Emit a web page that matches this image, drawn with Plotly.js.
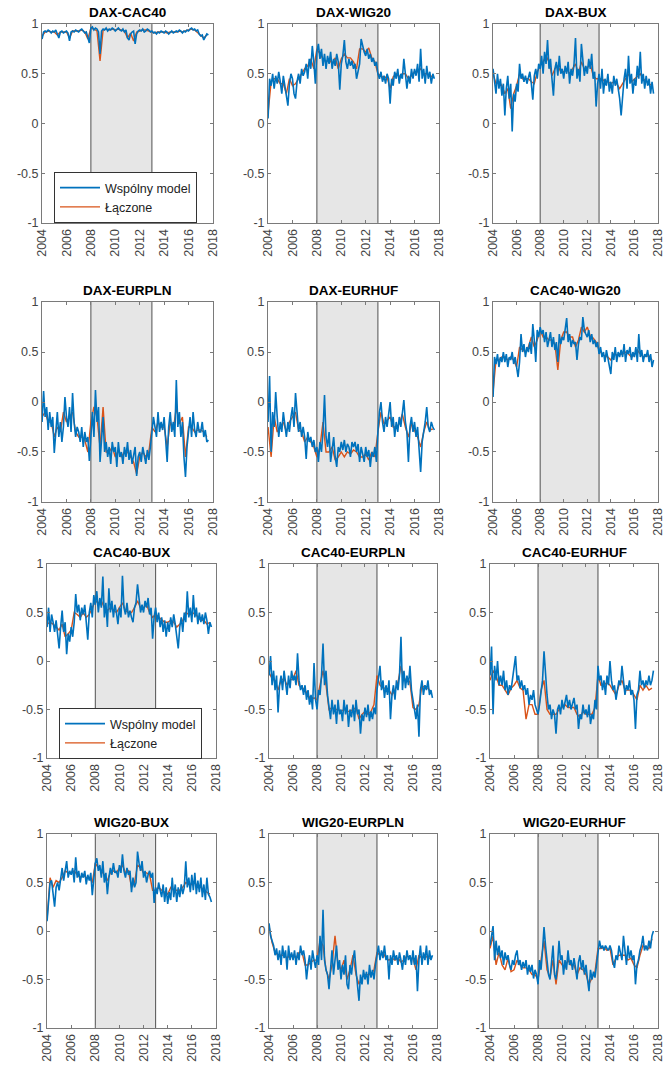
<!DOCTYPE html>
<html>
<head>
<meta charset="utf-8">
<script src="https://cdn.plot.ly/plotly-3.0.1.min.js"></script>
<style>
html,body{margin:0;padding:0;background:#fff;}
#chart{width:666px;height:1065px;}
</style>
</head>
<body>
<div id="chart"></div>
<script>
// ---------- DATA ----------
const panelTitles = ['DAX-CAC40','DAX-WIG20','DAX-BUX','DAX-EURPLN','DAX-EURHUF','CAC40-WIG20',
                     'CAC40-BUX','CAC40-EURPLN','CAC40-EURHUF','WIG20-BUX','WIG20-EURPLN','WIG20-EURHUF'];
const seriesNames = ['Wspólny model','Łączone'];
const xTickYears = [2004,2006,2008,2010,2012,2014,2016,2018];
const yTickVals = [-1,-0.5,0,0.5,1];
const yTickText = ['-1','-0.5','0','0.5','1'];
const crisisStart = 2008, crisisEnd = 2013;
const startYear = 2004;
const stepWsp = 1/8;   // sampling of "Wspólny model" values
const stepLac = 1/4;   // sampling of "Łączone" values

// Wspólny model (blue), 2004.000 .. 2017.625 every 1/8 year
const wsp_DAX_CAC40 = [
0.85,0.92,0.93,0.92,0.94,0.93,0.91,0.93,
0.92,0.94,0.90,0.86,0.92,0.93,0.91,0.92,
0.93,0.91,0.83,0.92,0.93,0.92,0.94,0.93,
0.92,0.94,0.95,0.93,0.91,0.92,0.87,0.81,
0.96,0.97,0.94,0.96,0.95,0.92,0.70,0.93,
0.95,0.94,0.96,0.93,0.95,0.94,0.96,0.95,
0.93,0.95,0.96,0.94,0.93,0.95,0.92,0.94,
0.86,0.84,0.90,0.92,0.93,0.80,0.90,0.93,
0.94,0.93,0.95,0.92,0.93,0.95,0.94,0.92,
0.93,0.91,0.92,0.90,0.92,0.91,0.93,0.92,
0.91,0.93,0.92,0.90,0.92,0.93,0.91,0.92,
0.93,0.92,0.94,0.93,0.91,0.93,0.92,0.94,
0.93,0.95,0.96,0.94,0.95,0.93,0.94,0.90,
0.88,0.89,0.84,0.87,0.90,0.89];
const wsp_DAX_WIG20 = [
0.05,0.45,0.38,0.50,0.35,0.48,0.40,0.52,
0.42,0.30,0.48,0.38,0.25,0.18,0.40,0.50,
0.45,0.30,0.25,0.42,0.50,0.40,0.55,0.48,
0.52,0.60,0.45,0.65,0.55,0.78,0.62,0.40,
0.72,0.80,0.65,0.75,0.58,0.70,0.55,0.68,
0.60,0.72,0.55,0.65,0.58,0.70,0.62,0.34,
0.60,0.68,0.84,0.62,0.55,0.65,0.58,0.63,
0.55,0.60,0.45,0.52,0.60,0.85,0.78,0.72,
0.68,0.75,0.65,0.70,0.62,0.66,0.58,0.62,
0.50,0.45,0.52,0.42,0.48,0.40,0.50,0.45,
0.20,0.45,0.38,0.52,0.45,0.55,0.40,0.50,
0.45,0.65,0.50,0.35,0.48,0.40,0.55,0.45,
0.55,0.48,0.60,0.42,0.75,0.45,0.55,0.40,
0.58,0.45,0.52,0.40,0.50,0.45];
const wsp_DAX_BUX = [
0.55,0.40,0.30,0.50,0.35,0.45,0.28,0.40,
0.08,0.35,0.48,0.25,0.40,-0.08,0.30,0.22,
0.40,0.32,0.60,0.45,0.50,0.42,0.48,0.40,
0.45,0.52,0.40,0.24,0.48,0.55,0.45,0.60,
0.55,0.68,0.50,0.72,0.60,0.84,0.55,0.65,
0.45,0.28,0.55,0.62,0.48,0.68,0.50,0.55,
0.45,0.58,0.50,0.62,0.40,0.55,0.48,0.60,
0.86,0.45,0.55,0.42,0.80,0.60,0.48,0.58,
0.50,0.65,0.55,0.70,0.45,0.52,0.17,0.40,
0.50,0.35,0.55,0.30,0.45,0.38,0.50,0.32,
0.42,0.30,0.48,0.38,0.45,0.35,0.25,0.08,
0.30,0.45,0.55,0.35,0.68,0.40,0.50,0.30,
0.45,0.38,0.58,0.45,0.72,0.40,0.50,0.35,
0.48,0.38,0.45,0.30,0.42,0.30];
const wsp_DAX_EURPLN = [
-0.20,0.11,-0.15,-0.05,-0.28,-0.10,-0.25,-0.15,
-0.51,-0.30,-0.10,-0.35,-0.20,-0.40,-0.25,0.05,
-0.15,-0.25,-0.05,-0.30,0.09,-0.20,-0.35,-0.25,
-0.30,-0.40,-0.25,-0.45,-0.30,-0.40,-0.35,-0.59,
-0.30,-0.10,-0.35,0.12,-0.20,-0.05,-0.60,-0.35,
-0.15,-0.50,-0.40,-0.55,-0.45,-0.62,-0.40,-0.50,
-0.45,-0.65,-0.40,-0.55,-0.50,-0.62,-0.45,-0.55,
-0.40,-0.58,-0.48,-0.62,-0.55,-0.45,-0.74,-0.55,
-0.50,-0.60,-0.45,-0.55,-0.62,-0.48,-0.58,-0.45,
-0.30,-0.15,-0.25,-0.35,-0.10,-0.30,-0.20,-0.28,
-0.15,-0.35,-0.60,-0.25,-0.10,-0.30,-0.20,-0.35,
0.22,-0.25,-0.10,-0.35,-0.20,-0.55,-0.75,-0.45,
-0.30,-0.15,-0.35,-0.10,-0.28,-0.35,-0.20,-0.30,
-0.30,-0.20,-0.35,-0.28,-0.40,-0.38];
const wsp_DAX_EURHUF = [
-0.20,0.26,-0.50,-0.10,-0.25,0.10,-0.15,-0.35,
-0.20,-0.30,-0.10,-0.25,-0.35,-0.20,-0.30,-0.15,
-0.05,-0.25,0.09,-0.10,-0.30,-0.20,-0.35,-0.25,
-0.35,-0.57,-0.30,-0.40,-0.35,-0.45,-0.38,-0.50,
-0.45,-0.60,-0.40,-0.50,-0.30,0.07,-0.35,-0.45,
-0.30,-0.60,-0.45,-0.35,-0.55,-0.65,-0.45,-0.50,
-0.40,-0.48,-0.38,-0.50,-0.42,-0.45,-0.55,-0.40,
-0.45,-0.40,-0.50,-0.42,-0.60,-0.45,-0.52,-0.60,
-0.45,-0.55,-0.48,-0.65,-0.50,-0.55,-0.45,-0.60,
-0.30,-0.10,0.00,-0.20,-0.30,-0.15,-0.25,-0.10,
0.00,-0.25,-0.15,-0.35,-0.20,-0.30,-0.15,-0.25,
-0.10,0.02,-0.20,-0.30,-0.60,-0.25,-0.15,-0.30,
-0.20,-0.35,-0.25,-0.45,-0.70,-0.40,-0.30,-0.20,
-0.05,-0.25,-0.30,-0.20,-0.25,-0.28];
const wsp_CAC40_WIG20 = [
0.05,0.45,0.38,0.48,0.35,0.45,0.40,0.50,
0.40,0.48,0.35,0.45,0.42,0.50,0.38,0.45,
0.35,0.25,0.40,0.68,0.50,0.58,0.45,0.55,
0.50,0.60,0.48,0.78,0.62,0.40,0.72,0.65,
0.75,0.68,0.72,0.60,0.70,0.55,0.62,0.70,
0.55,0.65,0.52,0.60,0.40,0.68,0.58,0.65,
0.62,0.75,0.84,0.60,0.68,0.55,0.62,0.58,
0.60,0.42,0.58,0.65,0.62,0.85,0.72,0.68,
0.65,0.72,0.60,0.68,0.58,0.62,0.55,0.60,
0.48,0.55,0.45,0.50,0.40,0.52,0.45,0.38,
0.28,0.50,0.42,0.55,0.40,0.50,0.45,0.52,
0.45,0.58,0.40,0.52,0.48,0.55,0.42,0.50,
0.45,0.55,0.40,0.68,0.45,0.52,0.40,0.48,
0.45,0.52,0.40,0.48,0.35,0.42];
const wsp_CAC40_BUX = [
0.35,0.55,0.30,0.48,0.40,0.30,0.42,0.25,
0.13,0.35,0.52,0.30,0.40,0.07,0.28,0.20,
0.35,0.25,0.40,0.69,0.50,0.58,0.42,0.55,
0.48,0.58,0.40,0.22,0.50,0.60,0.45,0.68,
0.58,0.72,0.50,0.65,0.55,0.87,0.45,0.60,
0.35,0.75,0.50,0.62,0.45,0.58,0.50,0.38,
0.55,0.45,0.88,0.55,0.48,0.60,0.45,0.52,
0.45,0.40,0.55,0.60,0.79,0.65,0.50,0.58,
0.50,0.62,0.55,0.65,0.48,0.55,0.23,0.45,
0.55,0.40,0.50,0.35,0.45,0.30,0.42,0.25,
0.40,0.30,0.45,0.35,0.48,0.38,0.25,0.13,
0.35,0.45,0.30,0.50,0.40,0.72,0.45,0.55,
0.40,0.68,0.45,0.55,0.38,0.50,0.40,0.48,
0.38,0.50,0.42,0.28,0.40,0.35];
const wsp_CAC40_EURPLN = [
-0.15,0.05,-0.25,-0.10,-0.30,-0.15,-0.53,-0.25,
-0.15,-0.30,-0.10,-0.25,-0.35,-0.15,-0.28,-0.10,
-0.20,-0.15,-0.25,0.08,-0.20,-0.30,-0.25,-0.35,
-0.25,-0.40,-0.30,-0.45,-0.35,-0.50,-0.02,-0.40,
-0.50,-0.30,-0.35,-0.15,0.18,-0.25,-0.10,-0.35,
-0.45,-0.60,-0.40,-0.55,-0.45,-0.65,-0.40,-0.55,
-0.50,-0.62,-0.40,-0.55,-0.45,-0.68,-0.50,-0.58,
-0.45,-0.62,-0.40,-0.55,-0.50,-0.75,-0.55,-0.62,
-0.48,-0.58,-0.45,-0.62,-0.52,-0.60,-0.48,-0.55,
-0.30,-0.20,-0.05,-0.30,-0.20,-0.38,-0.25,-0.35,
-0.20,-0.60,-0.35,-0.25,-0.40,-0.20,-0.30,-0.15,
0.25,-0.30,-0.10,-0.28,-0.15,-0.25,-0.05,-0.30,
-0.40,-0.55,-0.60,-0.45,-0.78,-0.30,-0.20,-0.35,
-0.25,-0.30,-0.20,-0.35,-0.30,-0.38];
const wsp_CAC40_EURHUF = [
-0.15,0.15,-0.55,-0.05,-0.20,0.00,-0.25,-0.15,
-0.25,-0.10,-0.30,-0.20,-0.35,-0.25,-0.30,-0.20,
-0.10,0.05,-0.20,-0.15,-0.28,-0.20,-0.30,-0.25,
-0.35,-0.28,-0.45,-0.35,-0.40,-0.30,-0.45,-0.50,
-0.55,-0.45,-0.35,-0.20,0.10,-0.20,-0.35,-0.50,
-0.45,-0.60,-0.50,-0.55,-0.75,-0.50,-0.45,-0.55,
-0.40,-0.50,-0.42,-0.35,-0.48,-0.40,-0.50,-0.42,
-0.38,-0.50,-0.45,-0.70,-0.55,-0.60,-0.45,-0.55,
-0.50,-0.58,-0.45,-0.65,-0.55,-0.60,-0.40,-0.50,
-0.05,-0.20,-0.15,-0.30,-0.20,-0.35,-0.15,-0.25,
0.00,-0.20,-0.30,-0.25,-0.40,-0.30,-0.20,-0.25,
-0.05,-0.20,-0.35,-0.25,-0.30,-0.20,-0.35,-0.30,
-0.40,-0.70,-0.35,-0.30,-0.10,-0.25,-0.20,-0.28,
-0.20,-0.25,-0.15,-0.25,-0.20,-0.10];
const wsp_WIG20_BUX = [
0.10,0.30,0.50,0.52,0.40,0.25,0.45,0.50,
0.42,0.55,0.65,0.52,0.60,0.72,0.55,0.62,
0.58,0.65,0.50,0.76,0.55,0.62,0.50,0.60,
0.55,0.62,0.48,0.58,0.52,0.60,0.37,0.55,
0.70,0.75,0.62,0.68,0.55,0.72,0.50,0.60,
0.38,0.55,0.65,0.58,0.70,0.60,0.62,0.55,
0.68,0.60,0.79,0.62,0.55,0.65,0.58,0.62,
0.40,0.55,0.45,0.50,0.82,0.70,0.62,0.72,
0.55,0.62,0.50,0.58,0.62,0.55,0.60,0.29,
0.45,0.38,0.50,0.42,0.35,0.48,0.30,0.45,
0.28,0.40,0.32,0.55,0.35,0.48,0.30,0.45,
0.35,0.48,0.38,0.45,0.72,0.45,0.55,0.40,
0.58,0.42,0.60,0.38,0.52,0.40,0.55,0.35,
0.48,0.32,0.55,0.38,0.35,0.30];
const wsp_WIG20_EURPLN = [
0.08,-0.05,-0.10,-0.15,-0.25,-0.18,-0.30,-0.20,
-0.35,-0.15,-0.28,-0.20,-0.40,-0.15,-0.30,-0.22,
-0.30,-0.20,-0.35,-0.22,-0.30,-0.15,-0.25,-0.20,
-0.30,-0.50,-0.35,-0.25,-0.40,-0.20,-0.30,-0.38,
-0.25,-0.35,-0.05,-0.30,0.22,-0.30,-0.40,-0.45,
-0.60,-0.35,-0.20,-0.45,-0.30,-0.15,-0.40,-0.30,
-0.50,-0.35,-0.45,-0.25,-0.55,-0.60,-0.35,-0.45,
-0.30,-0.20,-0.40,-0.55,-0.72,-0.45,-0.55,-0.40,
-0.50,-0.42,-0.55,-0.35,-0.48,-0.40,-0.50,-0.35,
-0.25,-0.15,-0.30,-0.20,-0.28,-0.15,-0.30,-0.25,
-0.50,-0.25,-0.35,-0.20,-0.30,-0.25,-0.35,-0.22,
-0.30,-0.40,-0.25,-0.35,-0.20,-0.30,-0.25,-0.35,
-0.20,-0.35,-0.25,-0.62,-0.30,-0.15,-0.35,-0.22,
-0.30,-0.15,-0.35,-0.20,-0.30,-0.25];
const wsp_WIG20_EURHUF = [
-0.15,-0.05,0.05,-0.30,-0.10,-0.25,-0.15,-0.28,
-0.20,-0.35,-0.22,-0.30,-0.25,-0.35,-0.40,-0.30,
-0.35,-0.25,-0.20,-0.35,-0.30,-0.40,-0.32,-0.38,
-0.30,-0.45,-0.35,-0.42,-0.35,-0.49,-0.40,-0.45,
-0.55,-0.30,-0.40,-0.20,0.04,-0.15,-0.30,-0.45,
-0.50,-0.35,-0.15,-0.45,-0.50,-0.35,-0.10,-0.30,
-0.25,-0.45,-0.30,-0.40,-0.20,-0.35,-0.30,-0.40,
-0.28,-0.38,-0.50,-0.32,-0.25,-0.40,-0.30,-0.45,
-0.35,-0.50,-0.62,-0.40,-0.50,-0.42,-0.48,-0.35,
-0.20,-0.10,-0.18,-0.15,-0.20,-0.15,-0.18,-0.20,
-0.15,-0.20,-0.32,-0.38,-0.25,-0.30,-0.15,-0.25,
-0.30,-0.05,-0.20,-0.35,-0.15,-0.28,-0.20,-0.30,
-0.25,-0.55,-0.35,-0.30,-0.20,-0.15,-0.05,-0.20,
-0.15,-0.20,-0.10,-0.18,-0.05,0.00];

// Łączone (orange), 2004.00 .. 2017.50 every 1/4 year
const lac_DAX_CAC40 = [0.88,0.92,0.93,0.92, 0.92,0.89,0.92,0.92, 0.92,0.86,0.93,0.93, 0.93,0.94,0.92,0.85,
  0.96,0.95,0.93,0.63, 0.94,0.95,0.94,0.95, 0.94,0.95,0.94,0.93, 0.86,0.91,0.83,0.92, 0.93,0.94,0.94,0.93,
  0.92,0.91,0.92,0.92, 0.92,0.91,0.92,0.92, 0.92,0.93,0.92,0.93, 0.94,0.95,0.94,0.91, 0.88,0.86,0.89];
const lac_DAX_WIG20 = [0.10,0.42,0.45,0.45, 0.40,0.40,0.30,0.45, 0.38,0.40,0.45,0.50, 0.55,0.58,0.65,0.55,
  0.75,0.70,0.65,0.62, 0.65,0.60,0.66,0.55, 0.65,0.70,0.66,0.66, 0.62,0.55,0.75,0.75, 0.72,0.76,0.66,0.62,
  0.50,0.48,0.46,0.47, 0.35,0.47,0.50,0.47, 0.50,0.50,0.45,0.48, 0.52,0.52,0.55,0.50, 0.50,0.48,0.47];
const lac_DAX_BUX = [0.50,0.40,0.42,0.38, 0.30,0.35,0.15,0.30, 0.38,0.50,0.45,0.45, 0.45,0.42,0.40,0.52,
  0.58,0.62,0.68,0.62, 0.48,0.55,0.58,0.52, 0.52,0.55,0.50,0.55, 0.60,0.50,0.62,0.55, 0.56,0.60,0.48,0.45,
  0.45,0.45,0.42,0.42, 0.40,0.42,0.40,0.35, 0.40,0.45,0.50,0.42, 0.45,0.48,0.50,0.45, 0.42,0.40,0.38];
const lac_DAX_EURPLN = [-0.15,-0.10,-0.20,-0.20, -0.35,-0.25,-0.30,-0.10, -0.20,-0.15,-0.10,-0.30, -0.35,-0.35,-0.38,-0.50,
  -0.20,-0.05,-0.15,-0.45, -0.05,-0.50,-0.50,-0.45, -0.55,-0.48,-0.55,-0.50, -0.50,-0.55,-0.60,-0.72, -0.55,-0.50,-0.55,-0.50,
  -0.25,-0.30,-0.20,-0.25, -0.25,-0.45,-0.20,-0.28, -0.05,-0.22,-0.15,-0.55, -0.25,-0.25,-0.30,-0.28, -0.28,-0.30,-0.35];
const lac_DAX_EURHUF = [-0.25,-0.55,-0.15,-0.30, -0.25,-0.20,-0.30,-0.20, -0.15,-0.10,-0.28,-0.30, -0.40,-0.35,-0.40,-0.45,
  -0.55,-0.45,-0.20,-0.50, -0.50,-0.45,-0.58,-0.55, -0.50,-0.55,-0.50,-0.52, -0.48,-0.50,-0.55,-0.55, -0.52,-0.58,-0.50,-0.55,
  -0.30,-0.10,-0.22,-0.18, -0.15,-0.25,-0.25,-0.22, -0.12,-0.25,-0.35,-0.22, -0.28,-0.35,-0.45,-0.30, -0.20,-0.28,-0.27];
const lac_CAC40_WIG20 = [0.10,0.42,0.42,0.45, 0.45,0.42,0.45,0.42, 0.35,0.55,0.52,0.50, 0.55,0.65,0.55,0.62,
  0.72,0.65,0.65,0.62, 0.62,0.58,0.32,0.62, 0.70,0.70,0.65,0.65, 0.55,0.62,0.75,0.70, 0.75,0.66,0.64,0.60,
  0.52,0.48,0.46,0.45, 0.42,0.48,0.47,0.48, 0.48,0.50,0.48,0.45, 0.47,0.52,0.48,0.45, 0.46,0.46,0.42];
const lac_CAC40_BUX = [0.38,0.40,0.38,0.35, 0.32,0.38,0.25,0.28, 0.32,0.50,0.48,0.45, 0.50,0.45,0.48,0.55,
  0.62,0.60,0.62,0.55, 0.52,0.55,0.52,0.50, 0.55,0.60,0.52,0.50, 0.50,0.55,0.62,0.55, 0.55,0.58,0.50,0.45,
  0.48,0.45,0.42,0.40, 0.40,0.42,0.40,0.35, 0.38,0.42,0.50,0.48, 0.48,0.50,0.45,0.42, 0.42,0.38,0.40];
const lac_CAC40_EURPLN = [-0.12,-0.18,-0.20,-0.30, -0.20,-0.18,-0.25,-0.20, -0.18,-0.10,-0.25,-0.28, -0.30,-0.35,-0.40,-0.38,
  -0.40,-0.25,-0.10,-0.25, -0.50,-0.48,-0.50,-0.50, -0.52,-0.50,-0.52,-0.52, -0.50,-0.48,-0.60,-0.55, -0.52,-0.55,-0.52,-0.45,
  -0.15,-0.25,-0.28,-0.28, -0.30,-0.35,-0.30,-0.22, -0.05,-0.20,-0.18,-0.22, -0.48,-0.50,-0.45,-0.25, -0.28,-0.28,-0.32];
const lac_CAC40_EURHUF = [-0.20,-0.10,-0.15,-0.25, -0.25,-0.30,-0.35,-0.28, -0.25,-0.20,-0.28,-0.30, -0.60,-0.45,-0.45,-0.55,
  -0.55,-0.30,-0.20,-0.50, -0.55,-0.55,-0.55,-0.50, -0.48,-0.45,-0.48,-0.48, -0.48,-0.55,-0.58,-0.52, -0.55,-0.55,-0.55,-0.48,
  -0.15,-0.25,-0.25,-0.22, -0.25,-0.30,-0.35,-0.25, -0.20,-0.30,-0.30,-0.30, -0.35,-0.40,-0.25,-0.30, -0.25,-0.30,-0.28];
const lac_WIG20_BUX = [0.12,0.55,0.45,0.52, 0.50,0.55,0.62,0.60, 0.60,0.62,0.58,0.55, 0.58,0.55,0.55,0.50,
  0.70,0.65,0.62,0.58, 0.52,0.60,0.62,0.60, 0.65,0.68,0.60,0.62, 0.45,0.50,0.68,0.65, 0.60,0.60,0.58,0.42,
  0.42,0.45,0.42,0.40, 0.38,0.45,0.42,0.42, 0.42,0.45,0.50,0.48, 0.48,0.50,0.45,0.45, 0.42,0.40,0.38];
const lac_WIG20_EURPLN = [0.05,-0.12,-0.22,-0.25, -0.25,-0.25,-0.28,-0.25, -0.25,-0.28,-0.22,-0.22, -0.35,-0.35,-0.32,-0.30,
  -0.30,-0.10,-0.15,-0.40, -0.50,-0.35,-0.05,-0.35, -0.40,-0.30,-0.50,-0.40, -0.25,-0.45,-0.55,-0.48, -0.45,-0.45,-0.45,-0.40,
  -0.22,-0.25,-0.22,-0.28, -0.30,-0.28,-0.30,-0.28, -0.32,-0.30,-0.25,-0.28, -0.28,-0.40,-0.25,-0.28, -0.25,-0.28,-0.28];
const lac_WIG20_EURHUF = [-0.18,-0.05,-0.35,-0.22, -0.35,-0.40,-0.28,-0.42, -0.40,-0.30,-0.35,-0.38, -0.38,-0.40,-0.45,-0.45,
  -0.50,-0.28,-0.10,-0.40, -0.48,-0.30,-0.55,-0.30, -0.35,-0.38,-0.30,-0.35, -0.35,-0.45,-0.38,-0.40, -0.45,-0.55,-0.48,-0.42,
  -0.18,-0.18,-0.17,-0.20, -0.18,-0.35,-0.28,-0.25, -0.25,-0.25,-0.30,-0.28, -0.35,-0.38,-0.25,-0.15, -0.18,-0.18,-0.08];

const wspSeries = [wsp_DAX_CAC40,wsp_DAX_WIG20,wsp_DAX_BUX,wsp_DAX_EURPLN,wsp_DAX_EURHUF,wsp_CAC40_WIG20,
                   wsp_CAC40_BUX,wsp_CAC40_EURPLN,wsp_CAC40_EURHUF,wsp_WIG20_BUX,wsp_WIG20_EURPLN,wsp_WIG20_EURHUF];
const lacSeries = [lac_DAX_CAC40,lac_DAX_WIG20,lac_DAX_BUX,lac_DAX_EURPLN,lac_DAX_EURHUF,lac_CAC40_WIG20,
                   lac_CAC40_BUX,lac_CAC40_EURPLN,lac_CAC40_EURHUF,lac_WIG20_BUX,lac_WIG20_EURPLN,lac_WIG20_EURHUF];

// ---------- LAYOUT (pixel geometry of the panels) ----------
const W = 666, H = 1065;
const colPx = [
  [[42,213],[268,439],[493,658]],
  [[42,213],[268,439],[493,658]],
  [[47,216],[269,437],[490,658]],
  [[47,216],[269,437],[490,658]]
];
const rowPx = [[24,223],[302,502],[564,758],[834,1028]];

const BLUE = '#0072BD', ORANGE = '#D95319';
const FONT = 'Liberation Sans, Arial, Helvetica, sans-serif';

const traces = [];
const layout = {
  width: W, height: H,
  margin: {l:0, r:0, t:0, b:0},
  paper_bgcolor: '#ffffff',
  plot_bgcolor: '#ffffff',
  showlegend: true,
  shapes: [],
  annotations: [],
  font: {family: FONT, size: 12, color: '#404040'}
};

function timeGrid(n, step) {
  const out = [];
  for (let i = 0; i < n; i++) out.push(startYear + i * step);
  return out;
}

for (let p = 0; p < 12; p++) {
  const r = Math.floor(p / 3), c = p % 3;
  const ax = p === 0 ? '' : String(p + 1);
  const xa = 'xaxis' + ax, ya = 'yaxis' + ax;
  const xr = 'x' + ax, yr = 'y' + ax;
  const [x0, x1] = colPx[r][c];
  const [t0, t1] = rowPx[r];
  const common = {
    showline: true, linecolor: '#7a7a7a', linewidth: 1, mirror: 'ticks',
    ticks: 'inside', ticklen: 3, tickcolor: '#7a7a7a', showgrid: false, zeroline: false,
    automargin: false, fixedrange: true, ticklabeloverflow: 'allow',
    tickfont: {family: FONT, size: 12.5, color: '#444444'}
  };
  layout[xa] = Object.assign({}, common, {
    domain: [x0 / W, x1 / W], anchor: yr, range: [2003.995, 2018.005],
    tickmode: 'array', tickvals: xTickYears, ticktext: xTickYears.map(String), tickangle: -90
  });
  layout[ya] = Object.assign({}, common, {
    domain: [1 - t1 / H, 1 - t0 / H], anchor: xr, range: [-1.0005, 1.0005],
    tickmode: 'array', tickvals: yTickVals, ticktext: yTickText
  });
  // shaded crisis period
  layout.shapes.push({type:'rect', xref:xr, yref:yr, x0:crisisStart, x1:crisisEnd, y0:-1, y1:1,
    fillcolor:'#e6e6e6', line:{width:0}, layer:'below'});
  layout.shapes.push({type:'line', xref:xr, yref:yr, x0:crisisStart, x1:crisisStart, y0:-1, y1:1,
    line:{color:'#505050', width:1}, layer:'below'});
  layout.shapes.push({type:'line', xref:xr, yref:yr, x0:crisisEnd, x1:crisisEnd, y0:-1, y1:1,
    line:{color:'#505050', width:1}, layer:'below'});
  // panel title
  layout.annotations.push({text: panelTitles[p], xref:'paper', yref:'paper',
    x: (x0 + x1) / 2 / W, y: 1 - (t0 - 2) / H, xanchor:'center', yanchor:'bottom', showarrow:false,
    font:{family: FONT, size: 13.5, color:'#000000', weight:'bold'}});

  const legendId = p === 0 ? 'legend' : (p === 6 ? 'legend2' : undefined);
  const showLeg = legendId !== undefined;
  traces.push({type:'scatter', mode:'lines', x: timeGrid(lacSeries[p].length, stepLac), y: lacSeries[p],
    xaxis: xr, yaxis: yr, name: seriesNames[1], line:{color: ORANGE, width: 1.4},
    showlegend: showLeg, legend: legendId || 'legend', legendrank: 2, hoverinfo:'skip'});
  traces.push({type:'scatter', mode:'lines', x: timeGrid(wspSeries[p].length, stepWsp), y: wspSeries[p],
    xaxis: xr, yaxis: yr, name: seriesNames[0], line:{color: BLUE, width: 1.6},
    showlegend: showLeg, legend: legendId || 'legend', legendrank: 1, hoverinfo:'skip'});
}

const legendStyle = {
  xanchor:'left', yanchor:'top', bgcolor:'#ffffff', bordercolor:'#333333', borderwidth:1,
  font:{family: FONT, size: 12.5, color:'#222222'}, tracegroupgap: 0, traceorder:'normal', itemwidth: 40
};
layout.legend = Object.assign({}, legendStyle, {x: 54 / W, y: 1 - 172 / H});
layout.legend2 = Object.assign({}, legendStyle, {x: 59 / W, y: 1 - 708 / H});

Plotly.newPlot('chart', traces, layout, {displayModeBar: false, staticPlot: true});
</script>
</body>
</html>
